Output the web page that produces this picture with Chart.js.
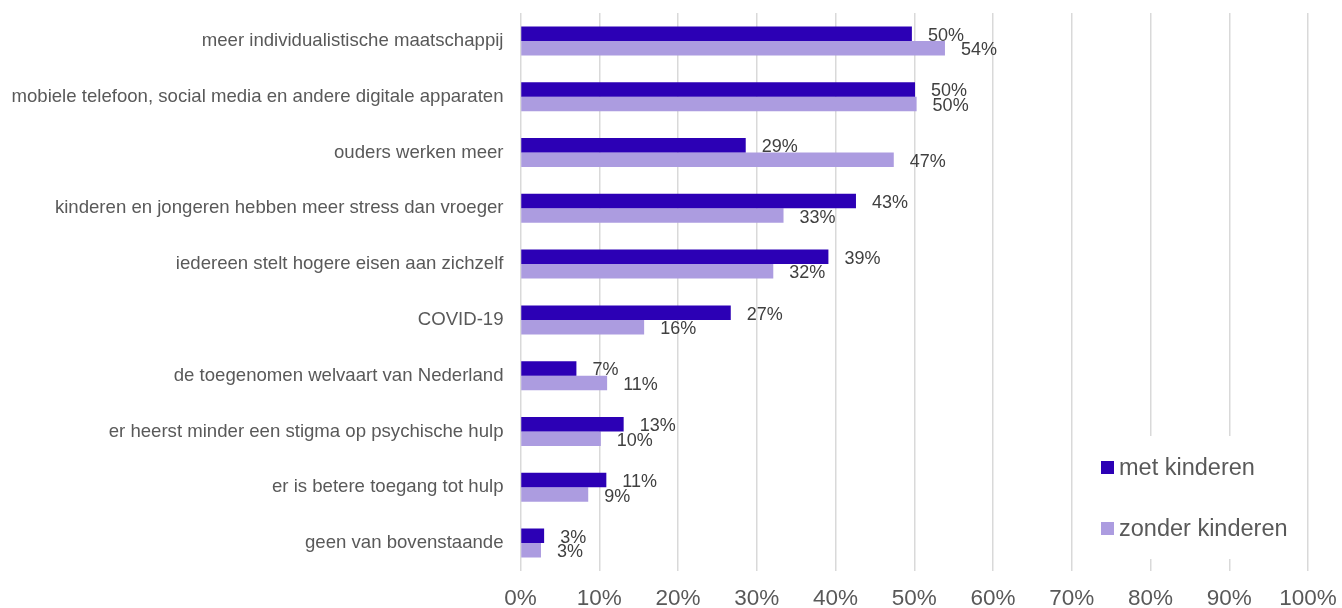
<!DOCTYPE html>
<html>
<head>
<meta charset="utf-8">
<script src="https://cdn.jsdelivr.net/npm/chart.js@4.4.0/dist/chart.umd.min.js"></script>
<style>
  html, body { margin: 0; padding: 0; background: #fff; }
  #wrap { position: relative; width: 1342px; height: 608px; }
</style>
</head>
<body>
<div id="wrap"><canvas id="chart"></canvas></div>
<script>
// ── Data ──────────────────────────────────────────────────────────────
const categories = [
  'meer individualistische maatschappij',
  'mobiele telefoon, social media en andere digitale apparaten',
  'ouders werken meer',
  'kinderen en jongeren hebben meer stress dan vroeger',
  'iedereen stelt hogere eisen aan zichzelf',
  'COVID-19',
  'de toegenomen welvaart van Nederland',
  'er heerst minder een stigma op psychische hulp',
  'er is betere toegang tot hulp',
  'geen van bovenstaande',
];
const metKinderen = [49.7, 50.1, 28.6, 42.6, 39.1, 26.7, 7.1, 13.1, 10.9, 3.0];
const zonderKinderen = [53.9, 50.3, 47.4, 33.4, 32.1, 15.7, 11.0, 10.2, 8.6, 2.6];
const seriesNames = ['met kinderen', 'zonder kinderen'];
const xTicks = [0, 10, 20, 30, 40, 50, 60, 70, 80, 90, 100];

const COLORS = ['#2C00B5', '#AC9CE0'];
const TEXT = '#595959';
const LABEL_TEXT = '#404040';
const FONT = "'Liberation Sans', Arial, sans-serif";

// no label overflow padding: the layout padding alone decides the plot box
function noOverflow(scale) {
  scale.paddingTop = 0;
  scale.paddingBottom = 0;
  scale.paddingLeft = 0;
  scale.paddingRight = 0;
}

// value labels at the end of each bar
const barLabels = {
  id: 'barLabels',
  afterDatasetsDraw(chart) {
    const ctx = chart.ctx;
    ctx.save();
    ctx.font = '18px ' + FONT;
    ctx.fillStyle = LABEL_TEXT;
    ctx.textAlign = 'left';
    ctx.textBaseline = 'middle';
    chart.data.datasets.forEach((ds, i) => {
      const meta = chart.getDatasetMeta(i);
      meta.data.forEach((bar, j) => {
        ctx.fillText(Math.round(ds.data[j]) + '%', bar.x + 16, bar.y + 2);
      });
    });
    ctx.restore();
  },
};

// legend box sitting inside the plot, bottom right
const boxLegend = {
  id: 'boxLegend',
  afterDatasetsDraw(chart) {
    const ctx = chart.ctx;
    ctx.save();
    ctx.fillStyle = '#fff';
    ctx.fillRect(1082, 436, 218, 123);
    ctx.font = '23.5px ' + FONT;
    ctx.textBaseline = 'middle';
    ctx.textAlign = 'left';
    const rows = [467.5, 528.5];
    chart.data.datasets.forEach((ds, i) => {
      ctx.fillStyle = ds.backgroundColor;
      ctx.fillRect(1101, rows[i] - 6.5, 13, 13);
      ctx.fillStyle = TEXT;
      ctx.fillText(ds.label, 1119, rows[i] + 1);
    });
    ctx.restore();
  },
};

new Chart(document.getElementById('chart'), {
  type: 'bar',
  data: {
    labels: categories,
    datasets: [
      { label: seriesNames[0], data: metKinderen, backgroundColor: COLORS[0] },
      { label: seriesNames[1], data: zonderKinderen, backgroundColor: COLORS[1] },
    ],
  },
  options: {
    indexAxis: 'y',
    responsive: true,
    maintainAspectRatio: false,
    animation: false,
    categoryPercentage: 0.52,
    barPercentage: 1,
    layout: { padding: { top: 13, right: 34, left: 0, bottom: 0 } },
    plugins: {
      legend: { display: false },
      tooltip: { enabled: false },
    },
    scales: {
      x: {
        min: 0,
        max: 100,
        afterBuildTicks(scale) {
          scale.ticks = xTicks.map((v) => ({ value: v }));
        },
        afterFit(scale) { scale.height = 37; noOverflow(scale); },
        grid: { color: '#D9D9D9', lineWidth: 1.5, drawTicks: false },
        border: { display: false },
        ticks: {
          padding: 14,
          color: TEXT,
          font: { family: FONT, size: 22.5 },
          callback: (v) => v + '%',
        },
      },
      y: {
        afterFit(scale) { scale.width = 520.5; noOverflow(scale); },
        grid: { display: false, drawTicks: false },
        border: { display: false },
        ticks: {
          padding: 17,
          color: TEXT,
          font: { family: FONT, size: 18.6 },
        },
      },
    },
  },
  plugins: [barLabels, boxLegend],
});
</script>
</body>
</html>
